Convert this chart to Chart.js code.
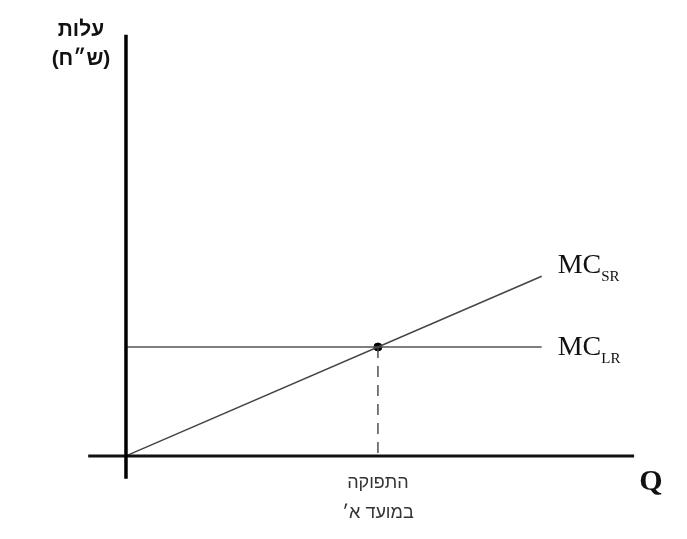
<!DOCTYPE html>
<html>
<head>
<meta charset="utf-8">
<script src="https://cdn.jsdelivr.net/npm/chart.js@4"></script>
<style>
  html, body { margin: 0; padding: 0; background: #fff; }
  #wrap { width: 687px; height: 539px; position: relative; }
</style>
</head>
<body>
<div id="wrap"><canvas id="chart"></canvas></div>
<script>
// quantity and cost values
const qA = 6;          // output at time A
const qEnd = 9.9;      // where the MC lines end
const mcLR = 30;       // long-run marginal cost level
const mcSR = [0, mcLR * qEnd / qA]; // short-run MC at Q=0 and Q=qEnd

// axes extents
const xAxisRange = [-0.9, 12.1];
const yAxisRange = [-6.3, 116];

// labels
const yTitle = ['עלות', '(ש״ח)'];
const xTitle = 'Q';
const qALabel = ['התפוקה', 'במועד א׳'];
const seriesNames = [['MC', 'SR'], ['MC', 'LR']];

const labelPlugin = {
    id: 'labels',
    afterDatasetsDraw(chart) {
        const ctx = chart.ctx;
        const xs = chart.scales.x, ys = chart.scales.y;
        ctx.save();
        ctx.fillStyle = '#111';
        ctx.textBaseline = 'middle';
        ctx.textAlign = 'center';

        // y axis title
        ctx.direction = 'rtl';
        ctx.font = 'bold 21px "Liberation Sans", "DejaVu Sans", sans-serif';
        ctx.fillText(yTitle[0], xs.getPixelForValue(0) - 45, 30);
        ctx.fillText(yTitle[1], xs.getPixelForValue(0) - 45, 59);

        // label under Q_A
        ctx.fillStyle = '#333';
        ctx.font = '18px "Liberation Sans", "DejaVu Sans", sans-serif';
        const ax = xs.getPixelForValue(qA);
        ctx.fillText(qALabel[0], ax, ys.getPixelForValue(0) + 27);
        ctx.fillText(qALabel[1], ax, ys.getPixelForValue(0) + 57);
        ctx.direction = 'ltr';

        // Q
        ctx.fillStyle = '#111';
        ctx.font = 'bold 30px "Liberation Serif", serif';
        ctx.fillText(xTitle, xs.getPixelForValue(12.5), ys.getPixelForValue(0) + 26);

        // MC labels
        const drawMC = (name, yVal) => {
            const x0 = xs.getPixelForValue(qEnd) + 16;
            const y0 = ys.getPixelForValue(yVal) - 2;
            ctx.textAlign = 'left';
            ctx.textBaseline = 'alphabetic';
            ctx.font = '28px "Liberation Serif", serif';
            ctx.fillText(name[0], x0, y0 + 10);
            const w = ctx.measureText(name[0]).width;
            ctx.font = '15px "Liberation Serif", serif';
            ctx.fillText(name[1], x0 + w, y0 + 18);
        };
        drawMC(seriesNames[0], mcSR[1] + 3);
        drawMC(seriesNames[1], mcLR);
        ctx.restore();
    }
};

new Chart(document.getElementById('chart'), {
    type: 'scatter',
    data: {
        datasets: [
            { // vertical axis
                data: [{ x: 0, y: yAxisRange[0] }, { x: 0, y: yAxisRange[1] }],
                showLine: true, borderColor: '#000', borderWidth: 3.5, pointRadius: 0
            },
            { // horizontal axis
                data: [{ x: xAxisRange[0], y: 0 }, { x: xAxisRange[1], y: 0 }],
                showLine: true, borderColor: '#111', borderWidth: 3, pointRadius: 0
            },
            { // MC SR
                data: [{ x: 0, y: mcSR[0] }, { x: qEnd, y: mcSR[1] }],
                showLine: true, borderColor: '#444', borderWidth: 1.6, pointRadius: 0
            },
            { // MC LR
                data: [{ x: 0, y: mcLR }, { x: qEnd, y: mcLR }],
                showLine: true, borderColor: '#555', borderWidth: 1.4, pointRadius: 0
            },
            { // dashed drop line
                data: [{ x: qA, y: mcLR }, { x: qA, y: 0 }],
                showLine: true, borderColor: '#444', borderWidth: 1.4, borderDash: [11, 8],
                pointRadius: 0
            },
            { // intersection point
                data: [{ x: qA, y: mcLR }],
                pointRadius: 4, backgroundColor: '#000', borderColor: '#000'
            }
        ]
    },
    options: {
        responsive: true,
        maintainAspectRatio: false,
        animation: false,
        layout: { padding: 0, autoPadding: false },
        plugins: { legend: { display: false }, tooltip: { enabled: false } },
        scales: {
            x: { type: 'linear', display: false, min: -3, max: 13.36 },
            y: { type: 'linear', display: false, min: -22.9, max: 125.6 }
        }
    },
    plugins: [labelPlugin]
});
</script>
</body>
</html>
